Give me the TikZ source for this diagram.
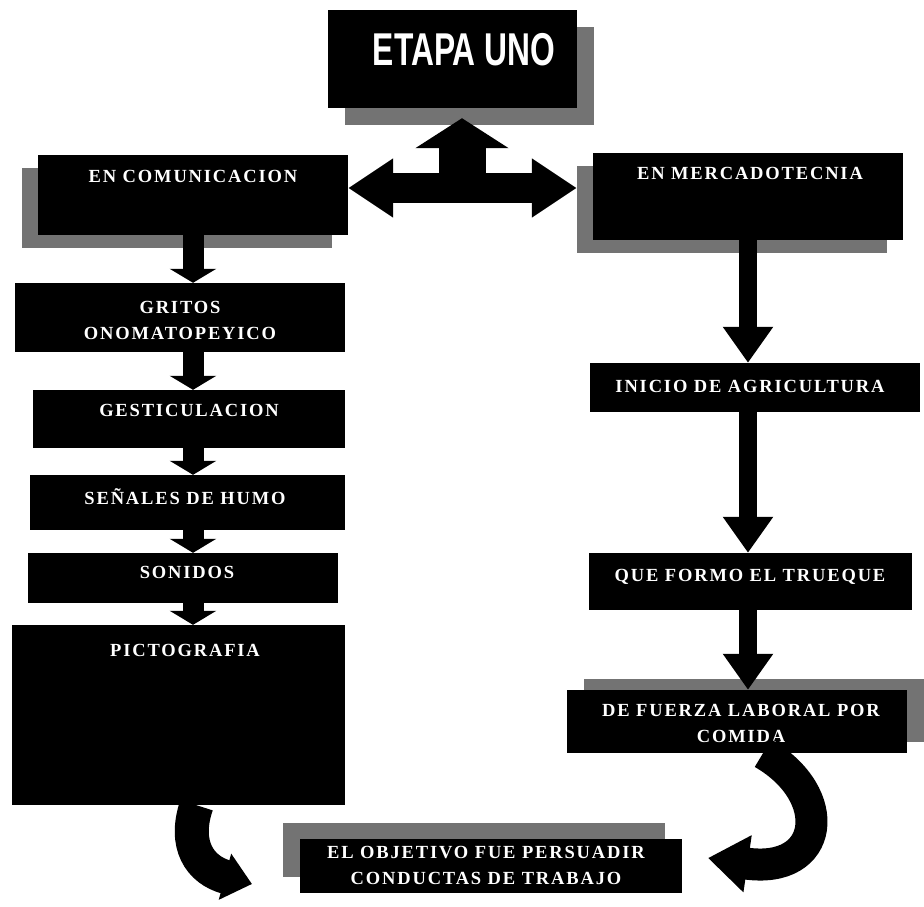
\documentclass[tikz,border=0pt]{standalone}
\usepackage{fontspec}
\usepackage{graphicx}
\setmainfont{Liberation Serif}
\newfontfamily\headfont{Liberation Sans}
\newfontfamily\boxfont[LetterSpace=10]{Liberation Serif}
\usetikzlibrary{arrows.meta,shadows}

\tikzset{
  box/.style={fill=black, inner sep=0pt},
  boxtext/.style={text=white, align=center, inner sep=0pt,
    font=\boxfont\bfseries\fontsize{18.5}{26}\selectfont},
  headtext/.style={text=white, inner sep=0pt,
    font=\headfont\bfseries\fontsize{46}{46}\selectfont},
  shade etapa/.style={general shadow={shadow xshift=17pt, shadow yshift=-17pt, fill=black!55}},
  shade left/.style={general shadow={shadow xshift=-16pt, shadow yshift=-13pt, fill=black!55}},
  shade upright/.style={general shadow={shadow xshift=17pt, shadow yshift=11pt, fill=black!55}},
  shade upleft/.style={general shadow={shadow xshift=-17pt, shadow yshift=16pt, fill=black!55}},
  flow/.style={line width=21pt, -{Triangle[width=46pt,length=14pt]}},
  rflow/.style={line width=18pt, -{Triangle[width=48pt,length=36pt]}},
  hbar/.style={line width=30pt, {Triangle[width=56pt,length=45pt]}-{Triangle[width=56pt,length=45pt]}},
  upbar/.style={line width=47pt, -{Triangle[width=92pt,length=30pt]}},
}

\begin{document}
\begin{tikzpicture}[x=1pt, y=-1pt]
    \useasboundingbox (0,0) rectangle (924,906);

    % title
    \node[box, shade etapa, minimum width=249pt, minimum height=98pt] (etapa) at (452.5,59) {};
    \node[headtext] (etapatext) at (464,50) {\scalebox{0.69}[1]{ETAPA UNO}};

    % left column
    \node[box, shade left, minimum width=310pt, minimum height=80pt] (com) at (193,195) {};
    \node[boxtext] (comtext) at (193,176) {EN COMUNICACION};
    \node[box, minimum width=330pt, minimum height=69pt] (grit) at (180,317.5) {};
    \node[boxtext] (grittext) at (180,320) {GRITOS\\ONOMATOPEYICO};
    \node[box, minimum width=312pt, minimum height=58pt] (gest) at (189,419) {};
    \node[boxtext] (gesttext) at (189,410) {GESTICULACION};
    \node[box, minimum width=315pt, minimum height=55pt] (sen) at (187.5,502.5) {};
    \node[boxtext] (sentext) at (185,497) {SEÑALES DE HUMO};
    \node[box, minimum width=310pt, minimum height=50pt] (son) at (183,578) {};
    \node[boxtext] (sontext) at (187,572) {SONIDOS};
    \node[box, minimum width=333pt, minimum height=180pt] (pict) at (178.5,715) {};
    \node[boxtext] (picttext) at (185,650) {PICTOGRAFIA};

    % right column
    \node[box, shade left, minimum width=310pt, minimum height=87pt] (mer) at (748,196.5) {};
    \node[boxtext] (mertext) at (750,173) {EN MERCADOTECNIA};
    \node[box, minimum width=330pt, minimum height=49pt] (ini) at (755,387.5) {};
    \node[boxtext] (initext) at (750,386) {INICIO DE AGRICULTURA};
    \node[box, minimum width=323pt, minimum height=57pt] (que) at (750.5,581.5) {};
    \node[boxtext] (quetext) at (750,577) {QUE FORMO EL TRUEQUE};
    \node[box, shade upright, minimum width=340pt, minimum height=63pt] (fue) at (737,721.5) {};
    \node[boxtext] (fuetext) at (741,723) {DE FUERZA LABORAL POR\\COMIDA};

    % bottom
    \node[box, shade upleft, minimum width=382pt, minimum height=54pt] (obj) at (491,866) {};
    \node[boxtext] (objtext) at (486,865) {EL OBJETIVO FUE PERSUADIR\\CONDUCTAS DE TRABAJO};

    % arrows
    \coordinate (hub) at (462,188);
    \draw[hbar, shorten >=16pt] (hub -| com.east) -- (hub -| mer.west);
    \draw[upbar, shorten >=10pt] (hub) -- (hub |- etapa.south);

    \draw[flow] (com.south) -- (com.south |- grit.north);
    \draw[flow] (grit.south -| com.south) -- (gest.north -| com.south);
    \draw[flow] (gest.south -| com.south) -- (sen.north -| com.south);
    \draw[flow] (sen.south -| com.south) -- (son.north -| com.south);
    \draw[flow] (son.south -| com.south) -- (pict.north -| com.south);

    \draw[rflow] (mer.south) -- (mer.south |- ini.north);
    \draw[rflow] (ini.south -| mer.south) -- (que.north -| mer.south);
    \draw[rflow] (que.south -| mer.south) -- (fue.north -| mer.south);

    \coordinate (ltip) at (252,884);
    \coordinate (rtip) at (708,858);
    \draw[line width=34pt, -{Triangle[width=46pt,length=28pt]}]
        ([xshift=18pt]pict.south) .. controls (183,845) and (200,870) .. (ltip);
    \draw[line width=32pt, -{Triangle[width=55pt,length=40pt]}]
        ([xshift=26pt]fue.south) .. controls (835,795) and (825,875) .. (rtip);

\end{tikzpicture}
\end{document}
